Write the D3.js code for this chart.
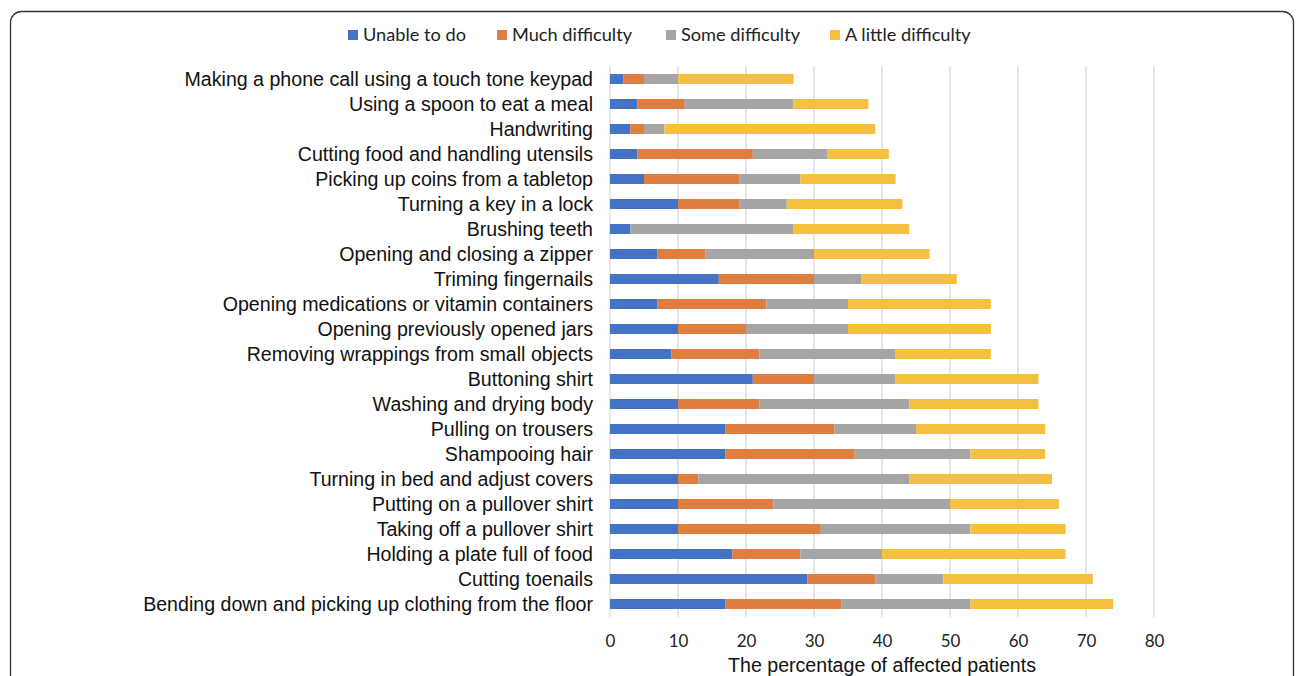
<!DOCTYPE html>
<html>
<head>
<meta charset="utf-8">
<script src="https://cdn.jsdelivr.net/npm/d3@7"></script>
<style>
  html, body { margin: 0; padding: 0; background: #fff; }
  svg { display: block; }
  .cat text { font-family: 'Liberation Sans', Arial, Helvetica, sans-serif; }
  .ttl { font-family: 'Liberation Sans', Arial, Helvetica, sans-serif; }
  .tk text, .lg { font-family: 'Lato', 'Open Sans', sans-serif; }
</style>
</head>
<body>
<svg id="chart" width="1296" height="676"></svg>
<script>
const categories = [
  "Making a phone call using a touch tone keypad",
  "Using a spoon to eat a meal",
  "Handwriting",
  "Cutting food and handling utensils",
  "Picking up coins from a tabletop",
  "Turning a key in a lock",
  "Brushing teeth",
  "Opening and closing a zipper",
  "Triming fingernails",
  "Opening medications or vitamin containers",
  "Opening previously opened jars",
  "Removing wrappings from small objects",
  "Buttoning shirt",
  "Washing and drying body",
  "Pulling on trousers",
  "Shampooing hair",
  "Turning in bed and adjust covers",
  "Putting on a pullover shirt ",
  "Taking off a pullover shirt",
  "Holding a plate full of food",
  "Cutting toenails",
  "Bending down and picking up clothing from the floor"
];
const seriesNames = ["Unable to do", "Much difficulty", "Some difficulty", "A little difficulty"];
const unableToDo      = [2, 4, 3, 4, 5, 10, 3, 7, 16, 7, 10, 9, 21, 10, 17, 17, 10, 10, 10, 18, 29, 17];
const muchDifficulty  = [3, 7, 2, 17, 14, 9, 0, 7, 14, 16, 10, 13, 9, 12, 16, 19, 3, 14, 21, 10, 10, 17];
const someDifficulty  = [5, 16, 3, 11, 9, 7, 24, 16, 7, 12, 15, 20, 12, 22, 12, 17, 31, 26, 22, 12, 10, 19];
const aLittleDifficulty = [17, 11, 31, 9, 14, 17, 17, 17, 14, 21, 21, 14, 21, 19, 19, 11, 21, 16, 14, 27, 22, 21];
const xTicks = [0, 10, 20, 30, 40, 50, 60, 70, 80];
const xTitle = "The percentage of affected patients";
const colors = ["#4472C4", "#E07E3F", "#A5A5A5", "#F5C040"];

const seriesValues = [unableToDo, muchDifficulty, someDifficulty, aLittleDifficulty];
const table = categories.map((c, i) => {
  const row = { cat: c };
  seriesNames.forEach((s, k) => row[s] = seriesValues[k][i]);
  return row;
});

const svg = d3.select("#chart");

// card border
svg.append("rect")
  .attr("x", 10.5).attr("y", 11.5)
  .attr("width", 1283).attr("height", 700)
  .attr("rx", 11).attr("ry", 11)
  .attr("fill", "#fff")
  .attr("stroke", "#333").attr("stroke-width", 1.3);

const x = d3.scaleLinear().domain([0, 80]).range([610, 1154]);
const y = d3.scaleBand().domain(categories).range([66.5, 616.5])
  .paddingInner(0.6).paddingOuter(0.3);

// gridlines
svg.append("g")
  .selectAll("line")
  .data(xTicks)
  .join("line")
  .attr("x1", d => x(d)).attr("x2", d => x(d))
  .attr("y1", 66).attr("y2", 617)
  .attr("stroke", "#D9D9D9").attr("stroke-width", 1.3);

// stacked bars
const stack = d3.stack().keys(seriesNames);
const layers = stack(table);
svg.append("g")
  .selectAll("g")
  .data(layers)
  .join("g")
  .attr("fill", (d, k) => colors[k])
  .selectAll("rect")
  .data(d => d)
  .join("rect")
  .attr("x", d => x(d[0]))
  .attr("width", d => x(d[1]) - x(d[0]))
  .attr("y", d => y(d.data.cat))
  .attr("height", y.bandwidth());

// category labels
const yAxis = svg.append("g")
  .attr("class", "cat")
  .attr("transform", "translate(610,0)")
  .call(d3.axisLeft(y).tickSize(0).tickPadding(17));
yAxis.attr("font-family", null);
yAxis.select(".domain").remove();
yAxis.selectAll("text")
  .attr("font-size", 19.6)
  .attr("fill", "#111")
  .attr("dy", "0.35em");

// x tick labels
const xAxis = svg.append("g")
  .attr("class", "tk")
  .attr("transform", "translate(0,617)")
  .call(d3.axisBottom(x).tickValues(xTicks).tickSize(0).tickPadding(18));
xAxis.attr("font-family", null);
xAxis.select(".domain").remove();
xAxis.selectAll("text")
  .attr("font-size", 17)
  .attr("fill", "#222");

// x title
svg.append("text")
  .attr("class", "ttl")
  .attr("x", x(40)).attr("y", 672)
  .attr("text-anchor", "middle")
  .attr("font-size", 19.6)
  .attr("fill", "#111")
  .text(xTitle);

// legend
const legendX = [348, 497, 666, 830];
const legend = svg.append("g");
seriesNames.forEach((s, k) => {
  legend.append("rect")
    .attr("x", legendX[k]).attr("y", 30)
    .attr("width", 10).attr("height", 10)
    .attr("fill", colors[k]);
  legend.append("text")
    .attr("class", "lg")
    .attr("x", legendX[k] + 15).attr("y", 41)
    .attr("font-size", 18.2)
    .attr("fill", "#222")
    .text(s);
});
</script>
</body>
</html>
